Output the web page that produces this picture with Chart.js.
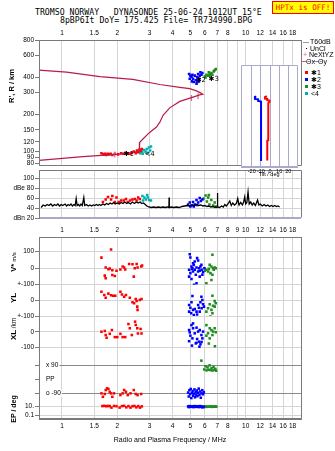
<!DOCTYPE html>
<html>
<head>
<meta charset="utf-8">
<title>TR734990 ionogram</title>
<script src="https://cdn.jsdelivr.net/npm/chart.js@4.4.1/dist/chart.umd.min.js"></script>
<style>
  html, body { margin: 0; padding: 0; background: #fff; }
  body { position: relative; width: 335px; height: 451px; overflow: hidden;
         font-family: "Liberation Sans", Arial, sans-serif; color: #000; }
  canvas { position: absolute; }
  .txt { position: absolute; white-space: pre; line-height: 1; }
  .hdr { font-family: "DejaVu Sans Mono", monospace; font-size: 8.2px; }
  #hptx { position: absolute; left: 272px; top: 1px; width: 62px; height: 13px; box-sizing: border-box;
          background: #ffff00; border: 1px solid #ff0000; color: #ff0000; text-align: center;
          font-family: "DejaVu Sans Mono", monospace; font-size: 7.6px; line-height: 11px; }
  .rot { position: absolute; white-space: pre; line-height: 1; transform: translate(-50%, -50%) rotate(-90deg); }
  .lg { position: absolute; font-size: 7px; white-space: pre; line-height: 1; }
  .mk { position: absolute; }
</style>
</head>
<body>

<div class="txt hdr" style="left:35px;top:8px">TROMSO NORWAY   DYNASONDE 25-06-24 1012UT 15°E</div>
<div class="txt hdr" style="left:60px;top:16px">8pBP6It DoY= 175.425 File= TR734990.BPG</div>
<div id="hptx">HPTx is OFF!</div>

<canvas id="cTop" width="335" height="171" style="left:0;top:0"></canvas>
<canvas id="cMid" width="335" height="70" style="left:0;top:160px"></canvas>
<canvas id="cBot" width="335" height="231" style="left:0;top:220px"></canvas>
<canvas id="cTilt" width="70" height="117" style="left:232px;top:61px"></canvas>

<!-- legend, right of the height panel -->
<div class="mk" style="left:303px;top:42px;width:6px;height:1px;background:#999"></div>
<div class="lg" style="left:310px;top:38px">T60dB</div>
<div class="mk" style="left:306px;top:48px;width:1px;height:1px;background:#000"></div>
<div class="lg" style="left:310px;top:45px">UnCl</div>
<div class="lg" style="left:303px;top:51px;color:#e8609c">+</div>
<div class="lg" style="left:309px;top:51px">NeXtYZ</div>
<div class="mk" style="left:302px;top:61px;width:4px;height:1px;background:#e0506e"></div>
<div class="lg" style="left:306px;top:58px">Θx</div>
<div class="mk" style="left:314px;top:61px;width:4px;height:1px;background:#8080e0"></div>
<div class="lg" style="left:318px;top:58px">Θy</div>
<div class="mk" style="left:305px;top:71px;width:3px;height:3px;background:#ff0000"></div>
<div class="lg" style="left:311px;top:69px">✱1</div>
<div class="mk" style="left:305px;top:78px;width:3px;height:3px;background:#0000ff"></div>
<div class="lg" style="left:311px;top:76px">✱2</div>
<div class="mk" style="left:305px;top:85px;width:3px;height:3px;background:#1e8c1e"></div>
<div class="lg" style="left:311px;top:83px">✱3</div>
<div class="mk" style="left:305px;top:92px;width:3px;height:3px;background:#00b0b0"></div>
<div class="lg" style="left:311px;top:90px">&lt;4</div>

<!-- axis titles -->
<div class="rot" style="left:12px;top:86px;font-size:7.5px;font-weight:bold">R', R / km</div>
<div class="rot" style="left:14px;top:262px;font-size:7.5px;font-weight:bold">V* <span style="font-weight:normal;font-size:6px">m/s</span></div>
<div class="rot" style="left:14px;top:298px;font-size:8px;font-weight:bold">YL</div>
<div class="rot" style="left:14px;top:323px;font-size:6.5px">/km</div>
<div class="rot" style="left:14px;top:335px;font-size:8px;font-weight:bold">XL</div>
<div class="rot" style="left:13px;top:409px;font-size:7px;font-weight:bold">EP / deg</div>
<div class="txt" style="left:170px;top:439px;font-size:7px;transform:translate(-50%,-50%)">Radio and Plasma Frequency / MHz</div>

<script>
// ---- axes --------------------------------------------------------------
const F_MIN = 0.75, F_MAX = 20;
const freqTicks = [1, 1.5, 2, 3, 4, 5, 6, 7, 8, 9, 10, 12, 14, 16, 18];
const freqLabelsOuter = [1, 1.5, 2, 3, 4, 5, 6, 7, 8, 10, 12, 14, 16, 18];
const heightTicks = [800, 600, 400, 300, 200, 150, 120, 100, 90, 80];
const ampTicks = [100, 80, 60, 40, 20];
const tiltTicks = [-20, -10, 0, 10, 20];

// ---- virtual height trace, [MHz, km] ----------------------------------
const trace = [[0.75,457],[1.06,439],[1.61,405],[2.43,384],[3.41,349],[4.38,331],[4.96,323],[5.4,310],
  [5.74,296],[5.84,291],[5.62,288],[5.17,276],[4.38,255],[3.86,226],[3.55,197],[3.41,173],[3.27,158],
  [3.0,143],[2.75,126],[2.65,119],[2.64,101],[2.3,97],[1.98,95],[1.3,91],[0.75,85]];
const neXYZ = [[1.94,95],[5.07,271],[5.51,280]];

// echoes, virtual height R' (km)
const redR = [[1.64,97],[1.68,95],[1.71,96],[1.74,94],[1.77,96],[1.80,95],[1.84,96],[1.88,94],[1.94,96],
  [2.02,95],[2.10,97],[2.16,96],[2.22,98],[2.28,97],[2.34,96],[2.40,98],[2.46,100],[2.52,97],[2.56,102],
  [2.60,99],[2.64,104],[2.68,101],[2.72,105]];
const cyanR = [[2.67,97],[2.73,100],[2.75,96],[2.80,103],[2.85,100],[2.90,105],[2.93,98],[2.98,108],[3.02,102],[3.05,110]];
const blueR = [[4.92,425],[5.00,412],[5.07,401],[4.96,389],[5.13,418],[5.17,389],[5.28,412],[5.35,378],[5.44,401],
  [5.51,425],[5.57,389],[5.62,412],[5.67,439],[5.74,418],[5.81,433],[5.22,366],[5.40,355],[5.10,370],[5.46,366],[5.57,370]];
const greenR = [[5.99,405],[6.05,398],[6.11,418],[6.24,412],[6.30,439],[6.37,425],[6.43,412],[6.51,433],[6.59,418],
  [6.70,446],[6.78,455],[6.87,465]];
const tags = [{ text: '✱1', f: 2.31, r: 95 }, { text: '<4', f: 3.0, r: 96 },
  { text: '✱2', f: 5.7, r: 378 }, { text: '✱3', f: 6.7, r: 389 }];

// ---- amplitude (dB) ---------------------------------------------------
const noise = [[0.77,41],[0.79,46],[0.81,44],[0.83,47],[0.85,45],[0.87,48],[0.89,44],[0.91,47],[0.93,45],[0.95,48],
  [0.97,44],[0.99,47],[1.01,45],[1.04,48],[1.06,44],[1.08,47],[1.10,45],[1.12,48],[1.14,44],[1.16,47],[1.18,45],
  [1.195,59],[1.21,45],[1.23,47],[1.25,44],[1.27,48],[1.29,45],[1.315,61],[1.33,45],[1.36,47],[1.39,44],[1.42,46],
  [1.45,44],[1.48,46],[1.51,45],[1.54,47],[1.57,45],[1.60,47],[1.63,45],[1.67,48],[1.71,46],[1.75,49],[1.79,47],
  [1.83,50],[1.87,48],[1.91,51],[1.95,48],[2.00,50],[2.05,48],[2.10,51],[2.15,49],[2.20,52],[2.25,49],[2.30,51],
  [2.36,48],[2.42,52],[2.48,49],[2.54,52],[2.60,50],[2.66,52],[2.72,49],[2.78,50],[2.84,47],[2.90,44],[2.97,42],
  [3.05,41],[3.15,42],[3.25,41],[3.35,42],[3.45,41],[3.55,42],[3.65,41],[3.75,42],[3.82,41],[3.83,61],[3.84,41],
  [3.95,42],[4.05,41],[4.20,42],[4.35,41],[4.50,43],[4.65,44],[4.80,45],[4.95,44],[5.10,46],[5.25,45],[5.40,47],
  [5.55,45],[5.70,46],[5.85,44],[6.00,45],[6.15,43],[6.30,44],[6.45,42],[6.60,43],[6.75,42],[6.90,41],[7.00,42],
  [7.02,70],[7.04,42],[7.20,41],[7.40,44],[7.55,42],[7.70,47],[7.85,44],[8.00,48],[8.19,54],[8.35,45],[8.50,50],
  [8.70,46],[8.90,49],[9.05,59],[9.20,46],[9.40,51],[9.60,46],[9.75,52],[9.88,62],[10.0,48],[10.15,51],[10.3,72],
  [10.45,48],[10.65,52],[10.85,46],[11.05,50],[11.3,45],[11.6,56],[11.8,46],[12.0,48],[12.3,44],[12.6,47],[12.9,44],
  [13.2,46],[13.5,43],[13.8,45],[14.1,43],[14.4,45],[14.7,43],[15.0,44],[15.3,42]];
const redAmp = [[1.67,52],[1.73,57],[1.78,62],[1.85,57],[1.88,64],[1.94,52],[1.98,61],[2.04,52],[2.10,55],[2.17,55],
  [2.23,58],[2.28,52],[2.35,55],[2.42,57],[2.49,58],[2.55,55],[2.60,61],[2.65,58]];
const cyanAmp = [[2.74,64],[2.76,55],[2.81,61],[2.86,57],[2.91,66],[2.93,61],[2.98,56],[3.05,55]];
const blueAmp = [[4.86,47],[4.96,51],[5.00,43],[5.07,45],[5.17,52],[5.22,43],[5.28,47],[5.40,56],[5.44,46],
  [5.51,51],[5.62,60],[5.70,54],[5.81,57]];
const greenAmp = [[5.90,59],[6.05,65],[6.15,53],[6.25,61],[6.30,66],[6.35,47],[6.50,56],[6.65,45],[6.78,51],[6.87,43]];

// ---- velocity V* (m/s) ------------------------------------------------
const redV = [[1.64,64],[1.71,-45],[1.73,4],[1.73,-61],[1.79,-6],[1.82,-2],[1.85,113],[1.88,-41],[1.88,-12],[1.94,-47],
  [1.98,-16],[2.08,-8],[2.14,10],[2.18,4],[2.21,-8],[2.32,26],[2.42,24],[2.46,-51],[2.49,0],[2.55,26],[2.58,4],[2.70,10],[2.73,16]];
const blueV = [[4.96,85],[5.00,65],[5.44,61],[5.51,47],[5.17,30],[5.28,40],[5.07,10],[5.13,0],[4.92,-10],[5.00,-30],
  [5.17,-20],[5.28,-10],[5.35,-40],[5.57,0],[5.67,10],[5.76,-10],[5.86,-24],[5.96,0],[4.92,-51],[5.07,-65],[5.24,-101],
  [5.40,-91],[5.62,-51],[5.81,-40],[5.74,20],[5.51,-20],[5.40,4],[5.22,20],[5.62,-16],[5.10,-4]];
const greenV = [[6.59,81],[6.37,20],[6.51,10],[6.64,0],[6.78,4],[6.11,-10],[6.24,-20],[6.43,-30],[6.59,-40],[6.70,-10],
  [6.11,-91],[6.51,-71],[6.87,0],[5.99,-16],[6.30,-4]];

// ---- location YL, XL (km) ---------------------------------------------
const redYL = [[1.64,55],[1.70,34],[1.73,17],[1.79,43],[1.85,32],[1.90,30],[1.95,30],[2.08,55],[2.12,38],[2.18,23],
  [2.23,34],[2.34,17],[2.42,-12],[2.47,-19],[2.52,9],[2.55,-4],[2.57,-40],[2.58,-61],[2.65,2],[2.71,9]];
const blueYL = [[5.13,28],[5.74,23],[5.81,2],[5.67,-12],[5.07,-12],[4.92,-30],[5.00,-47],[5.17,-61],[5.28,-55],[5.40,-72],
  [5.51,-30],[5.57,-47],[5.86,-25],[5.22,-94],[5.35,-115],[5.13,-136],[5.44,-90],[4.92,-72],[5.05,-83],[5.62,-72],
  [5.76,-51],[5.93,-40]];
const greenYL = [[6.59,30],[6.78,-4],[6.37,-25],[6.64,-34],[6.24,-51],[6.51,-61],[6.78,-40],[6.11,-72],[6.43,-104],
  [6.59,-83],[6.87,-19]];
const redXL = [[1.64,0],[1.71,5],[1.73,-21],[1.75,-38],[1.82,-13],[1.87,11],[1.94,-34],[2.00,-34],[2.08,-13],[2.14,-34],
  [2.21,-34],[2.30,49],[2.34,22],[2.40,-21],[2.50,64],[2.52,43],[2.57,22],[2.59,-11],[2.68,18],[2.71,-11]];
const blueXL = [[5.07,42],[5.17,22],[4.92,11],[5.40,26],[5.51,1],[5.28,-10],[5.62,11],[5.74,-21],[5.00,-25],[5.13,-42],
  [5.44,-46],[5.57,-63],[5.35,-74],[5.86,1],[5.17,53],[4.96,-4],[5.81,-42],[5.67,-80],[4.92,-60],[5.10,-88],[5.40,-70],
  [5.60,-95],[5.75,-65]];
const greenXL = [[6.11,42],[6.37,22],[6.51,11],[6.64,1],[6.24,-10],[6.78,22],[6.59,-21],[6.37,-42],[6.87,-3],[6.11,-25],
  [6.30,-75],[6.80,-92]];

// ---- polarization PP and elevation EP (deg) ---------------------------
const redPP = [[1.64,-90],[1.67,-112],[1.71,-94],[1.73,-69],[1.76,-58],[1.79,-62],[1.82,-80],[1.85,-90],[1.88,-112],
  [1.92,-90],[2.08,-101],[2.14,-90],[2.18,-69],[2.23,-80],[2.28,-101],[2.36,-90],[2.46,-69],[2.52,-94],[2.58,-101],[2.70,-94]];
const bluePP = [[4.86,-85],[4.90,-110],[4.94,-70],[4.98,-95],[5.02,-62],[5.06,-120],[5.10,-88],[5.14,-75],[5.18,-105],
  [5.22,-92],[5.26,-65],[5.30,-115],[5.34,-80],[5.38,-98],[5.42,-72],[5.46,-108],[5.50,-86],[5.55,-60],[5.60,-100],
  [5.65,-78],[5.70,-118],[5.75,-90],[5.80,-70],[5.86,-96],[5.92,-82]];
const greenPP = [[5.74,118],[5.95,62],[6.05,82],[6.12,56],[6.20,75],[6.28,60],[6.36,88],[6.44,58],[6.52,70],[6.60,55],
  [6.68,78],[6.76,60],[6.84,66],[6.90,54]];
const redEP = [[1.66,14],[1.70,16],[1.74,13],[1.78,15],[1.82,14],[1.86,6],[1.92,15],[1.98,13],[2.06,6],[2.12,14],
  [2.18,16],[2.24,7],[2.30,14],[2.36,6],[2.42,13],[2.48,15],[2.54,7],[2.60,14],[2.66,6],[2.72,12]];
const blueEP = [[4.86,12],[4.90,8],[4.95,14],[5.00,9],[5.05,12],[5.10,10],[5.15,13],[5.20,8],[5.25,11],[5.30,14],
  [5.35,9],[5.40,12],[5.45,10],[5.50,13],[5.55,8],[5.60,11],[5.65,14],[5.70,9],[5.75,12],[5.80,7],[5.86,10],[5.92,8]];
const greenEP = [[5.95,10],[6.05,12],[6.15,9],[6.25,11],[6.35,10],[6.45,12],[6.55,9],[6.65,11],[6.75,10],[6.85,12],[6.92,10]];

// ---- tilt against height (deg, km) ------------------------------------
const tiltX = [[-9.8,90],[-9.8,263],[-13,266],[-13,274],[-16.5,276],[-16.5,286],[-15,288]];
const tiltO = [[-3,91],[-3,130],[-1.9,131],[-1.9,256],[-0.5,262],[-0.5,268],[-3,270],[-3,276],[-5.5,278],[-5.5,285],[-3.5,290]];

// ---- style -------------------------------------------------------------
const RED = '#ff0000', BLUE = '#0000ff', GREEN = '#1e8c1e', CYAN = '#00b0b0';
const CRIMSON = '#b81c48', PINK = '#e8609c';
const GRID = '#d4d4d4', FRAME = '#7a7a7a', LAV = '#a9a9cc';

Chart.defaults.font.family = '"Liberation Sans", Arial, sans-serif';
Chart.defaults.font.size = 6.5;
Chart.defaults.color = '#000';
Chart.defaults.animation = false;
Chart.defaults.responsive = false;
Chart.defaults.plugins.legend.display = false;
Chart.defaults.plugins.tooltip.enabled = false;

// outline of the plot area, optional white fill behind it
const framePlugin = {
  id: 'frame',
  beforeDraw(chart, args, o) {
    if (!o.fill) return;
    const a = chart.chartArea;
    chart.ctx.save();
    chart.ctx.fillStyle = o.fill;
    chart.ctx.fillRect(a.left, a.top, a.right - a.left, a.bottom - a.top);
    chart.ctx.restore();
  },
  afterDraw(chart, args, o) {
    if (!o.color) return;
    const a = chart.chartArea, ctx = chart.ctx;
    const L = Math.round(a.left) + 0.5, R = Math.round(a.right) + 0.5;
    const T = Math.round(a.top) + 0.5, B = Math.round(a.bottom) - 0.5;
    const seg = (x1, y1, x2, y2, c) => { ctx.strokeStyle = c; ctx.beginPath(); ctx.moveTo(x1, y1); ctx.lineTo(x2, y2); ctx.stroke(); };
    ctx.save();
    ctx.lineWidth = 1;
    seg(L, T, R, T, o.color);
    seg(R, T, R, B, o.color);
    seg(L, B, R, B, o.bottom || o.color);
    seg(L, T, L, B, o.color);
    ctx.restore();
  }
};

// small text tags placed at (frequency, height)
const tagPlugin = {
  id: 'tags',
  afterDatasetsDraw(chart, args, o) {
    if (!o.items) return;
    const ctx = chart.ctx, xs = chart.scales.x, ys = chart.scales.y;
    ctx.save();
    ctx.font = '7px "DejaVu Sans", sans-serif';
    ctx.fillStyle = '#000';
    ctx.textAlign = 'center';
    ctx.textBaseline = 'middle';
    o.items.forEach(t => ctx.fillText(t.text, xs.getPixelForValue(t.f), ys.getPixelForValue(t.r)));
    ctx.restore();
  }
};
Chart.register(framePlugin, tagPlugin);

const pts = arr => arr.map(([x, y]) => ({ x, y }));
const dots = (arr, color, yAxisID) => ({ data: pts(arr), yAxisID, pointStyle: 'rect', pointRadius: 1.8,
  backgroundColor: color, borderWidth: 0 });
const lineSet = (arr, color, width) => ({ data: pts(arr), showLine: true, pointRadius: 0,
  borderColor: color, borderWidth: width, tension: 0 });

function freqAxis(position, height, labels, padding) {
  return {
    type: 'logarithmic', position, min: F_MIN, max: F_MAX,
    afterBuildTicks: s => { s.ticks = freqTicks.map(value => ({ value })); },
    afterFit: s => { s.height = height; },
    grid: { color: GRID, drawTicks: false },
    border: { color: FRAME },
    ticks: {
      display: !!labels, autoSkip: false, maxRotation: 0, padding: padding || 2,
      callback: v => (labels && labels.includes(v)) ? String(v) : ''
    }
  };
}

function fixedTicks(values) {
  return s => { s.ticks = values.map(value => ({ value })); };
}

// ---- virtual height panel ---------------------------------------------
new Chart(document.getElementById('cTop'), {
  type: 'scatter',
  data: { datasets: [
    lineSet(trace, CRIMSON, 1.2),
    { data: pts(neXYZ), pointStyle: 'line', rotation: 90, pointRadius: 3, borderColor: PINK, borderWidth: 1.2 },
    dots(redR, RED), dots(cyanR, CYAN), dots(blueR, BLUE), dots(greenR, GREEN)
  ] },
  options: {
    layout: { padding: { left: 0, right: 34, top: 0, bottom: 1 } },
    scales: {
      x: freqAxis('top', 40, freqLabelsOuter, 3),
      y: {
        type: 'logarithmic', min: 76.8, max: 800,
        afterBuildTicks: fixedTicks(heightTicks),
        afterFit: s => { s.width = 39; },
        grid: { drawOnChartArea: false, tickLength: 4, color: FRAME },
        border: { color: FRAME },
        ticks: { padding: 1, autoSkip: false, callback: v => String(v) }
      }
    },
    plugins: { frame: { color: FRAME }, tags: { items: tags } }
  }
});

// ---- amplitude panel ---------------------------------------------------
const midX = freqAxis('bottom', 0, null);
midX.border = { display: false };
new Chart(document.getElementById('cMid'), {
  type: 'scatter',
  data: { datasets: [
    lineSet(noise, '#000', 1.3),
    dots(redAmp, RED), dots(cyanAmp, CYAN), dots(blueAmp, BLUE), dots(greenAmp, GREEN)
  ] },
  options: {
    layout: { padding: { left: 0, right: 34, top: 10, bottom: 12 } },
    scales: {
      x: midX,
      y: {
        type: 'linear', min: 20, max: 116,
        afterBuildTicks: fixedTicks(ampTicks),
        afterFit: s => { s.width = 39; },
        grid: { color: c => (c.tick && c.tick.value === 20) ? LAV : GRID, tickColor: FRAME, tickLength: 4 },
        border: { color: FRAME },
        ticks: { padding: 1, autoSkip: false, callback: v => v === 80 ? 'dBe 80' : v === 20 ? 'dBn 20' : String(v) }
      }
    },
    plugins: { frame: { color: FRAME, bottom: LAV } }
  }
});

// ---- V*, YL, XL, PP, EP panels, stacked on one frequency axis -----------
function band(extra, tickOpts) {
  return Object.assign({
    type: 'linear', position: 'left', stack: 'b',
    afterFit: s => { s.width = 39; },
    border: { color: FRAME },
    grid: { color: GRID, tickColor: FRAME, tickLength: 4 },
    ticks: Object.assign({ padding: 1, autoSkip: false, callback: v => String(v) }, tickOpts)
  }, extra);
}
const bottomX = freqAxis('bottom', 32, freqLabelsOuter, 3);
bottomX.grid = { display: false, drawTicks: false };
new Chart(document.getElementById('cBot'), {
  type: 'scatter',
  data: { datasets: [
    dots(redV, RED, 'v'), dots(blueV, BLUE, 'v'), dots(greenV, GREEN, 'v'),
    dots(redYL, RED, 'yl'), dots(blueYL, BLUE, 'yl'), dots(greenYL, GREEN, 'yl'),
    dots(redXL, RED, 'xl'), dots(blueXL, BLUE, 'xl'), dots(greenXL, GREEN, 'xl'),
    dots(redPP, RED, 'pp'), dots(bluePP, BLUE, 'pp'), dots(greenPP, GREEN, 'pp'),
    dots(redEP, RED, 'ep'), dots(blueEP, BLUE, 'ep'), dots(greenEP, GREEN, 'ep')
  ] },
  options: {
    layout: { padding: { left: 0, right: 34, top: 0, bottom: 0 } },
    scales: {
      x: freqAxis('top', 17, freqTicks, 3),
      x2: bottomX,
      v: band({ weight: 5, stackWeight: 47.7, min: -100, max: 189, afterBuildTicks: fixedTicks([100, 0]) }),
      yl: band({ weight: 4, stackWeight: 31.3, min: -100, max: 100, afterBuildTicks: fixedTicks([100, 0, -100]) },
        { callback: v => v === 0 ? '0' : '+-100' }),
      xl: band({ weight: 3, stackWeight: 36, min: -128.6, max: 100, afterBuildTicks: fixedTicks([0, -100]) }),
      pp: band({ weight: 2, stackWeight: 50, min: -145, max: 173, afterBuildTicks: fixedTicks([90, 0, -90]),
        grid: { color: c => (c.tick && c.tick.value === 0) ? 'rgba(0,0,0,0)' : '#8a8a8a', tickColor: FRAME, tickLength: 4 } },
        { mirror: true, padding: 7, showLabelBackdrop: true, backdropColor: '#fff',
          backdropPadding: { left: 7, right: 1, top: 0, bottom: 0 },
          callback: v => v === 90 ? 'x 90' : v === -90 ? 'o -90' : 'PP' }),
      ep: band({ type: 'logarithmic', weight: 1, stackWeight: 17, min: 0.011, max: 135, afterBuildTicks: fixedTicks([10, 0.1]) },
        { callback: v => v === 10 ? '10.' : '0.1' })
    },
    plugins: { frame: { color: FRAME } }
  }
});

// ---- tilt inset ----------------------------------------------------------
new Chart(document.getElementById('cTilt'), {
  type: 'scatter',
  data: { datasets: [lineSet(tiltX, BLUE, 2), lineSet(tiltO, RED, 2)] },
  options: {
    layout: { padding: { left: 9.2, right: 5, top: 4, bottom: 0 } },
    scales: {
      x: {
        type: 'linear', position: 'bottom', min: -31.5, max: 29.5,
        afterBuildTicks: fixedTicks(tiltTicks),
        afterFit: s => { s.height = 11; },
        grid: { color: LAV, drawTicks: false },
        border: { color: LAV },
        ticks: { font: { size: 5.5 }, padding: 1, autoSkip: false, maxRotation: 0 },
        title: { display: true, text: 'Tilt / deg', font: { size: 5.5 }, padding: 0 }
      },
      y: { type: 'logarithmic', min: 80.9, max: 509, display: false }
    },
    plugins: { frame: { color: LAV, fill: '#fff' } }
  }
});
</script>
</body>
</html>
